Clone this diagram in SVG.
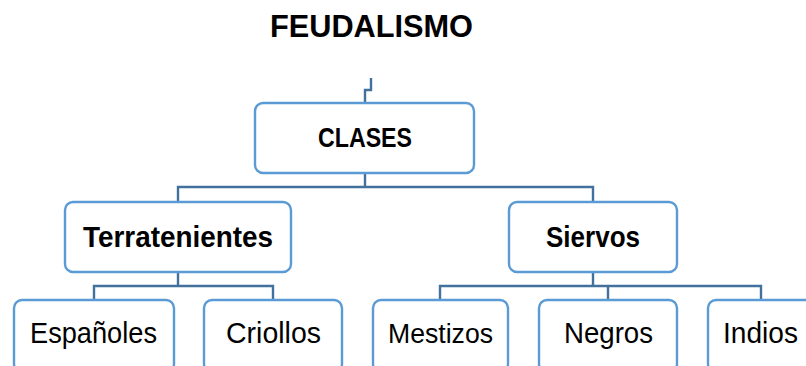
<svg xmlns="http://www.w3.org/2000/svg" width="806" height="366" viewBox="0 0 806 366">
<style>
.box{fill:#fff;stroke:#5B9BD5;stroke-width:2.4}
.con{fill:none;stroke:#41719C;stroke-width:2.4}
.t{font-family:"Liberation Sans",Arial,sans-serif;fill:#000;text-anchor:middle}
.b{font-weight:bold}
</style>
<rect width="806" height="366" fill="#fff"/>
<text class="t b" x="371.5" y="37" font-size="32" textLength="203" lengthAdjust="spacingAndGlyphs">FEUDALISMO</text>
<g id="connectors">
<path class="con" d="M371,78 V90 H365 V103"/>
<path class="con" d="M365,173 V187 M178,202 V187 H593 V202"/>
<path class="con" d="M178,272 V286 M94,300 V286 H273 V300"/>
<path class="con" d="M593,272 V286 M440,300 V286 H761 V300 M608,286 V300"/>
</g>
<g id="clases"><rect class="box" x="255" y="103" width="219" height="70" rx="8"/><text class="t b" x="365" y="147" font-size="28" textLength="94" lengthAdjust="spacingAndGlyphs">CLASES</text></g>
<g id="terratenientes"><rect class="box" x="65" y="202" width="226" height="70" rx="8"/><text class="t b" x="178" y="247" font-size="29" textLength="190" lengthAdjust="spacingAndGlyphs">Terratenientes</text></g>
<g id="siervos"><rect class="box" x="509" y="202" width="168" height="70" rx="8"/><text class="t b" x="593" y="247" font-size="29" textLength="94" lengthAdjust="spacingAndGlyphs">Siervos</text></g>
<g id="espanoles"><rect class="box" x="14" y="300" width="160" height="72" rx="8"/><text class="t" x="93.5" y="343" font-size="29" textLength="127" lengthAdjust="spacingAndGlyphs">Españoles</text></g>
<g id="criollos"><rect class="box" x="204" y="300" width="138" height="72" rx="8"/><text class="t" x="273.5" y="343" font-size="29" textLength="95" lengthAdjust="spacingAndGlyphs">Criollos</text></g>
<g id="mestizos"><rect class="box" x="373" y="300" width="135" height="72" rx="8"/><text class="t" x="440.5" y="343" font-size="27" textLength="105" lengthAdjust="spacingAndGlyphs">Mestizos</text></g>
<g id="negros"><rect class="box" x="539" y="300" width="138" height="72" rx="8"/><text class="t" x="608.5" y="343" font-size="29" textLength="89" lengthAdjust="spacingAndGlyphs">Negros</text></g>
<g id="indios"><rect class="box" x="708" y="300" width="106" height="72" rx="8"/><text class="t" x="760.5" y="343" font-size="29" textLength="75" lengthAdjust="spacingAndGlyphs">Indios</text></g>
</svg>
